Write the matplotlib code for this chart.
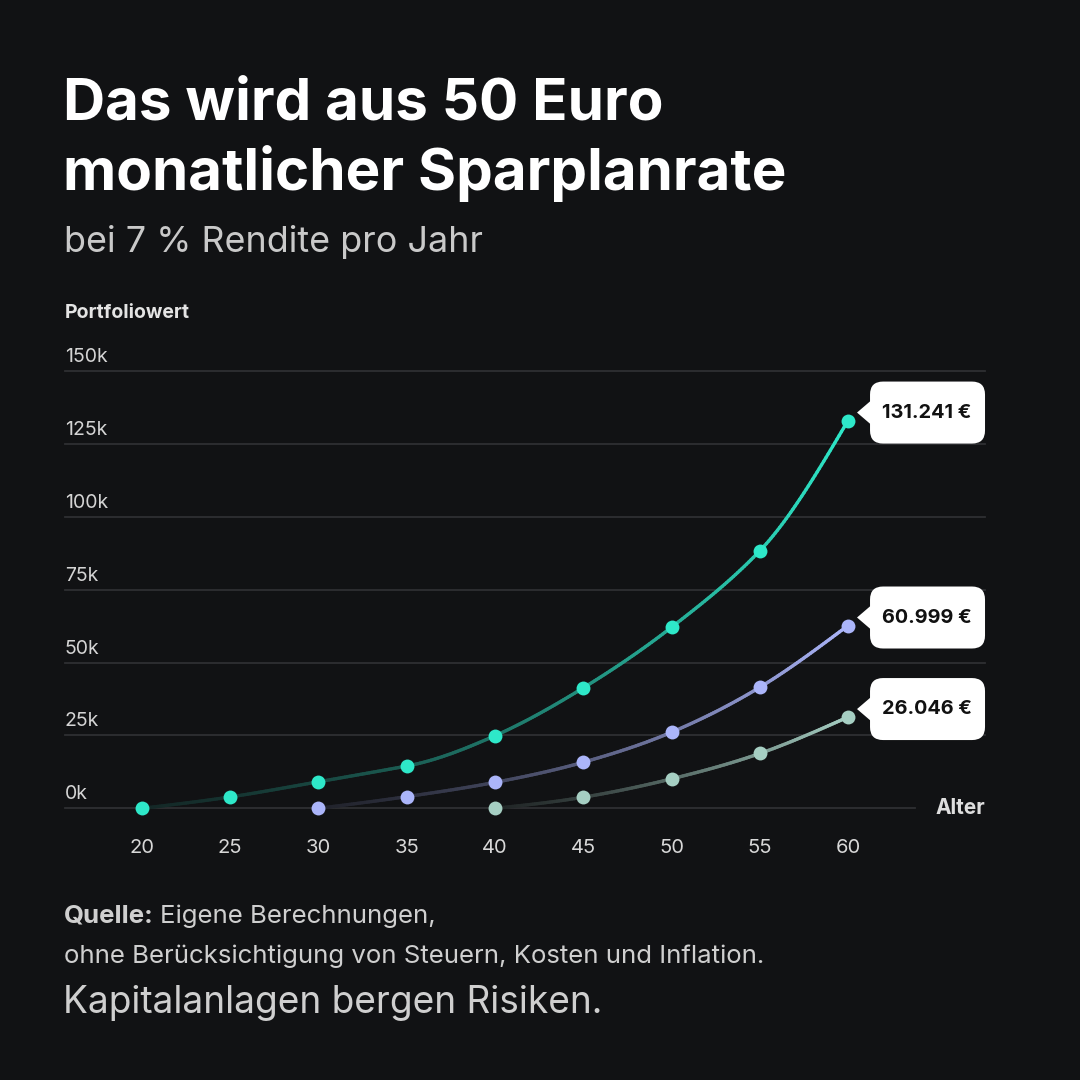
import numpy as np
import matplotlib
matplotlib.use('Agg')
import matplotlib.pyplot as plt
import matplotlib.transforms as mtransforms
from matplotlib.collections import LineCollection
from matplotlib.patches import FancyBboxPatch
from matplotlib.colors import to_rgb

plt.rcParams['font.family'] = ['Inter', 'DejaVu Sans']

# data (values in euro)
ages_20 = [20, 25, 30, 35, 40, 45, 50, 55, 60]
start_20 = [0, 3900, 9100, 14500, 24900, 41300, 62100, 88300, 133000]
ages_30 = [30, 35, 40, 45, 50, 55, 60]
start_30 = [0, 4000, 8900, 15800, 26100, 41500, 62700]
ages_40 = [40, 45, 50, 55, 60]
start_40 = [0, 3800, 10100, 18800, 31300]
end_labels = ['131.241 €', '60.999 €', '26.046 €']
x_ticks = [20, 25, 30, 35, 40, 45, 50, 55, 60]
y_ticks = [0, 25000, 50000, 75000, 100000, 125000, 150000]
y_tick_labels = ['0k', '25k', '50k', '75k', '100k', '125k', '150k']

BG = '#111214'
colors = ['#2ee8c9', '#abb5fa', '#a6cfc3']

fig = plt.figure(figsize=(10.8, 10.8), dpi=100, facecolor=BG)
ax = fig.add_axes([65 / 1080, 1 - 808.3 / 1080, 920 / 1080, (808.3 - 371) / 1080])
ax.set_facecolor(BG)
ax.set_xlim(15.64, 67.76)
ax.set_ylim(0, 150000)
ax.axis('off')

# grid + y labels
for v, lab in zip(y_ticks, y_tick_labels):
    xmax = 0.924 if v == 0 else 1.0
    ax.axhline(v, xmin=0, xmax=xmax, color='#2e2f32', lw=1.3, zorder=0, clip_on=False)
    ax.annotate(lab, (0, v), xycoords=('axes fraction', 'data'),
                xytext=(0, 5), textcoords='offset pixels', ha='left', va='bottom',
                fontsize=14, color='#d4d4d4')

for t in x_ticks:
    ax.annotate(str(t), (t, 0), xytext=(0, -40), textcoords='offset pixels',
                ha='center', va='center', fontsize=14.5, color='#d8d8d8')

ax.annotate('Alter', (1, 0), xycoords='axes fraction', xytext=(0, 0),
            textcoords='offset pixels', ha='right', va='center',
            fontsize=15, fontweight='bold', color='#dedede')
fig.text(65 / 1080, 1 - 313 / 1080, 'Portfoliowert', ha='left', va='center',
         fontsize=14, fontweight='bold', color='#e4e4e4')


def smooth(xs, ys, n=40):
    # cubic curve through the points, only for drawing the line
    xs = np.asarray(xs, float)
    ys = np.asarray(ys, float)
    s = np.diff(ys) / np.diff(xs)
    m = np.empty_like(ys)
    m[1:-1] = (s[:-1] + s[1:]) / 2
    m[0] = max((3 * s[0] - m[1]) / 2, 0)
    # keep each segment free of wiggles
    for i in range(1, len(xs) - 1):
        m[i] = min(m[i], 3 * s[i - 1] - 2 * m[i - 1])
    m[-1] = (3 * s[-1] - m[-2]) / 2
    out_x, out_y = [], []
    for i in range(len(xs) - 1):
        h = xs[i + 1] - xs[i]
        u = np.linspace(0, 1, n, endpoint=False)
        h00 = 2 * u**3 - 3 * u**2 + 1
        h10 = u**3 - 2 * u**2 + u
        h01 = -2 * u**3 + 3 * u**2
        h11 = u**3 - u**2
        out_x.append(xs[i] + u * h)
        out_y.append(h00 * ys[i] + h10 * h * m[i] + h01 * ys[i + 1] + h11 * h * m[i + 1])
    out_x.append([xs[-1]])
    out_y.append([ys[-1]])
    return np.concatenate(out_x), np.concatenate(out_y)


bg_rgb = np.array(to_rgb(BG))
series = [(ages_20, start_20), (ages_30, start_30), (ages_40, start_40)]
for (xs, ys), col, lab in zip(series, colors, end_labels):
    sx, sy = smooth(xs, ys)
    pts = np.column_stack([sx, sy]).reshape(-1, 1, 2)
    segs = np.concatenate([pts[:-1], pts[1:]], axis=1)
    t = (sx[:-1] - sx[0]) / (sx[-1] - sx[0])
    mix = 0.1 + 0.9 * t**1.3
    c = np.array(to_rgb(col))
    seg_cols = bg_rgb[None, :] * (1 - mix[:, None]) + c[None, :] * mix[:, None]
    lc = LineCollection(segs, colors=seg_cols, linewidths=2.4, zorder=2,
                        capstyle='round', clip_on=False)
    ax.add_collection(lc)
    ax.plot(xs, ys, 'o', color=col, markersize=10, markeredgewidth=0, zorder=3, clip_on=False)

    # end label box with pointer
    tr = mtransforms.Affine2D() + mtransforms.ScaledTranslation(xs[-1], ys[-1], ax.transData)
    box = FancyBboxPatch((22, -23), 115, 62, boxstyle='round,pad=0,rounding_size=13',
                         facecolor='white', edgecolor='none', transform=tr, zorder=4,
                         clip_on=False)
    ax.add_patch(box)
    tri = plt.Polygon([[9, 8], [23, 20], [23, -4]], closed=True, facecolor='white',
                      edgecolor='none', transform=tr, zorder=4, clip_on=False)
    ax.add_patch(tri)
    ax.text(78.5, 8, lab, transform=tr, ha='center', va='center', fontsize=14.3,
            fontweight='bold', color='#111111', zorder=5)

# titles
fig.text(63 / 1080, 1 - 105 / 1080, 'Das wird aus 50 Euro', ha='left', va='center',
         fontsize=42, fontweight='bold', color='white')
fig.text(63 / 1080, 1 - 173 / 1080, 'monatlicher Sparplanrate', ha='left', va='center',
         fontsize=42, fontweight='bold', color='white')
fig.text(64 / 1080, 1 - 242 / 1080, 'bei 7 % Rendite pro Jahr', ha='left', va='center',
         fontsize=25.8, color='#c9c9c9')

# footer
q = fig.text(64 / 1080, 1 - 916 / 1080, 'Quelle:', ha='left', va='center',
             fontsize=18.6, fontweight='bold', color='#cfcfcf')
fig.canvas.draw()
bb = q.get_window_extent()
fig.text((bb.x1 + 6) / 1080, 1 - 916 / 1080, 'Eigene Berechnungen,', ha='left', va='center',
         fontsize=18.6, color='#cfcfcf')
fig.text(64 / 1080, 1 - 956 / 1080,
         'ohne Berücksichtigung von Steuern, Kosten und Inflation.', ha='left', va='center',
         fontsize=18.6, color='#cfcfcf')
fig.text(63 / 1080, 1 - 1003 / 1080, 'Kapitalanlagen bergen Risiken.', ha='left', va='center',
         fontsize=26.7, color='#cfcfcf')

fig.savefig('out.png', dpi=100, facecolor=BG)
